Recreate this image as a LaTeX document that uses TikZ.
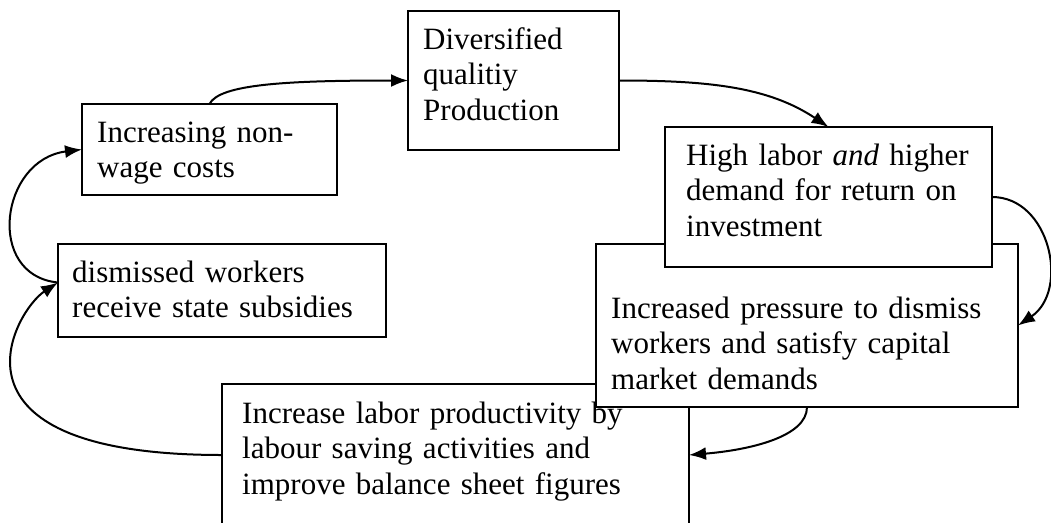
\documentclass[tikz,border=0pt]{standalone}
\usepackage{fontspec}
\setmainfont{Liberation Serif}[ItalicFont={Liberation Serif Italic}]
\usetikzlibrary{arrows.meta}
\begin{document}
\begin{tikzpicture}[x=1pt,y=-1pt,
  box/.style={draw, line width=2pt, fill=white, inner sep=0pt, outer sep=0pt, anchor=north west},
  lbl/.style={anchor=base west, inner sep=0pt, align=left, text width=480pt,
              font=\fontsize{31}{35.6}\selectfont},
  arr/.style={-{Latex[length=17pt,width=13pt]}, line width=2pt}]
\useasboundingbox (0,0) rectangle (1051,522);

% boxes, back to front
\node[box, minimum width=467pt, minimum height=142pt] (b6) at (222,384) {};
\node[box, minimum width=422pt, minimum height=163pt] (b5) at (596,244) {};
\node[box, minimum width=327pt, minimum height=140pt] (b3) at (665,127) {};
\node[box, minimum width=255pt, minimum height=91pt]  (b1) at (82,104) {};
\node[box, minimum width=211pt, minimum height=139pt] (b2) at (408,11) {};
\node[box, minimum width=328pt, minimum height=93pt]  (b4) at (58,244) {};

% box texts
\node[lbl] (t1) at (97,142) {Increasing non-\\wage costs};
\node[lbl] (t2) at (423,49) {Diversified\\qualitiy\\Production};
\node[lbl] (t3) at (686,165) {High labor \textit{and} higher\\demand for return on\\investment};
\node[lbl] (t4) at (72,282) {dismissed workers\\receive state subsidies};
\node[lbl] (t5) at (611,318) {Increased pressure to dismiss\\workers and satisfy capital\\market demands};
\node[lbl] (t6) at (242,423) {Increase labor productivity by\\labour saving activities and\\improve balance sheet figures};

% connectors
\coordinate (b4port) at ([yshift=8pt]b4.west);
\draw[arr] (b1.north) .. controls +(10,-20) and +(-120,0) .. (b2.west);
\draw[arr] (b2.east) .. controls +(90,0) and +(-60,-40) .. (b3.north);
\draw[arr] (b3.east) .. controls +(58,0) and +(52,-35) .. (b5.east);
\draw[arr] (b5.south) .. controls +(0,30) and +(60,-5) .. (b6.east);
\draw[arr] (b6.west) .. controls +(-292,0) and +(-43,28) .. (b4port);
\draw[arr] (b4port) .. controls +(-73,-7) and +(-82,10) .. (b1.west);
\end{tikzpicture}
\end{document}
